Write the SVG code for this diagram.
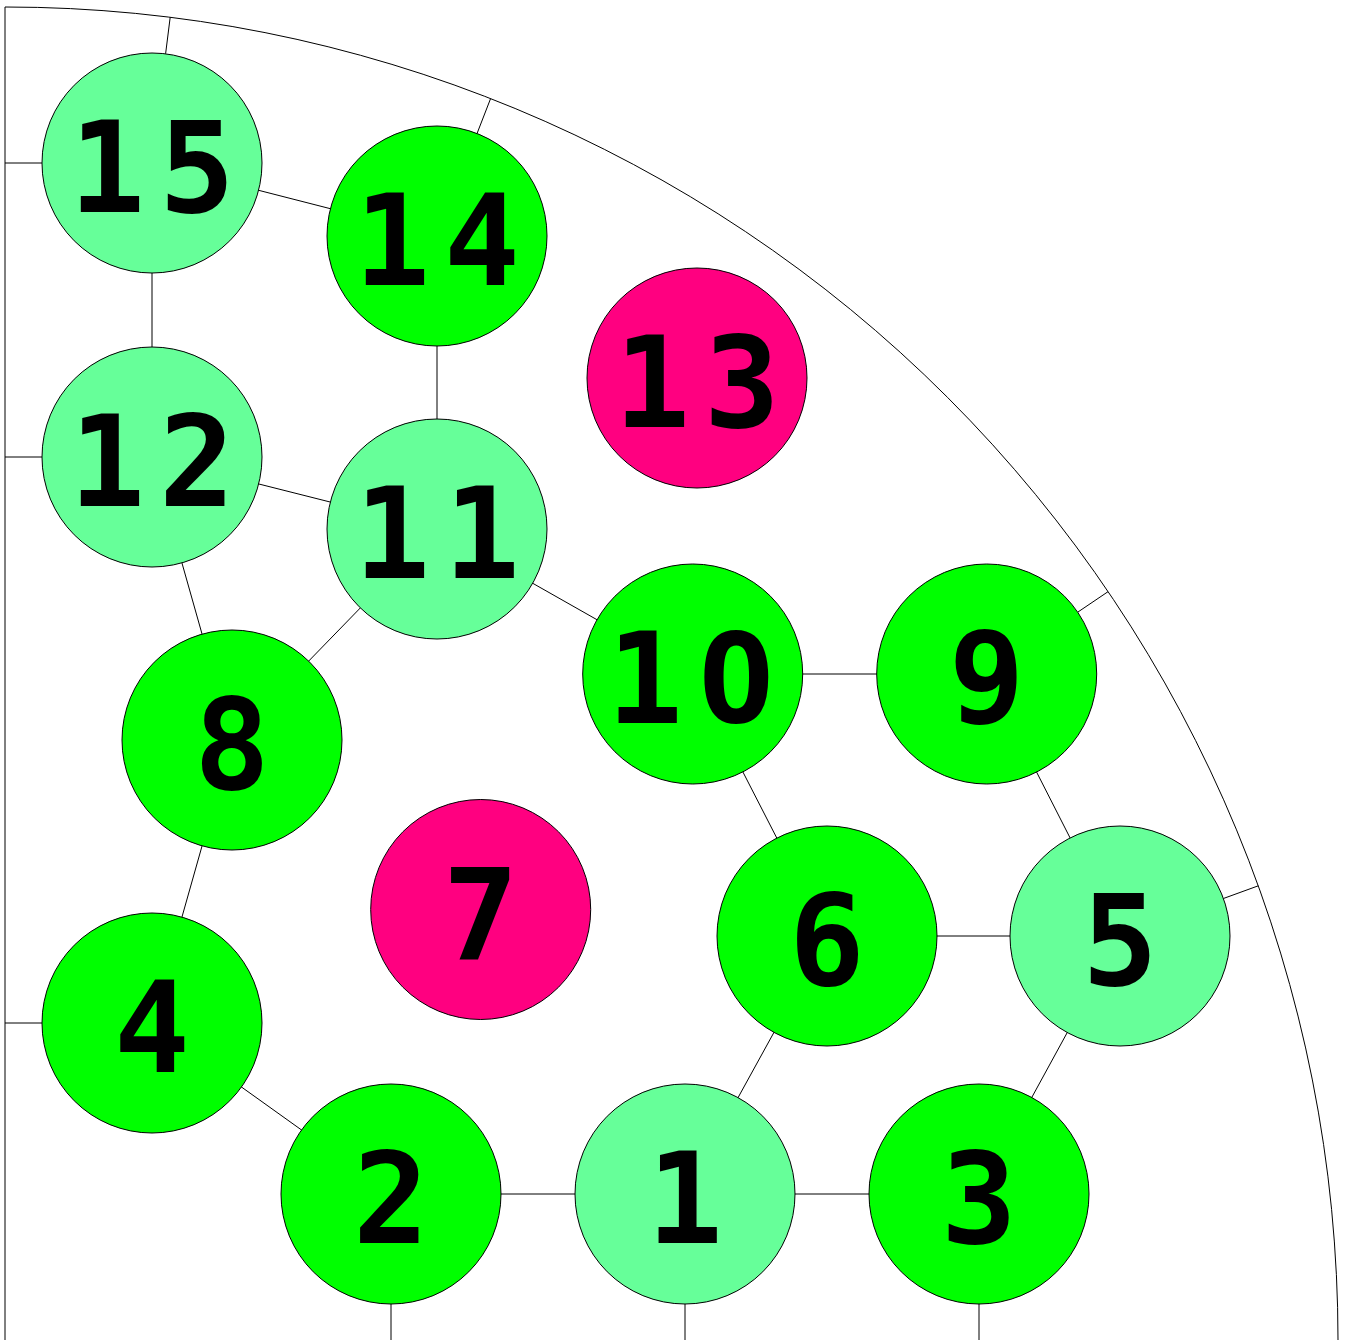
<svg xmlns="http://www.w3.org/2000/svg" width="1345" height="1340" viewBox="0 0 1345 1340">
<style>
.e{stroke:#000;stroke-width:1;fill:none}
.n circle{stroke:#000;stroke-width:1}
.lg{fill:#66FF99}
.g{fill:#00FF00}
.p{fill:#FF0080}
.n text{font-family:"DejaVu Sans Mono",monospace;font-weight:bold;font-size:126px;letter-spacing:14px;text-anchor:middle;fill:#000}
.n text.s{text-anchor:start}
.z{font-family:"Noto Sans",sans-serif;font-size:128px}
</style>
<rect width="1345" height="1340" fill="#fff"/>
<g id="connectors" class="e">
<path d="M5,7 A1333,1333 0 0 1 1338,1340"/>
<line x1="5" y1="7" x2="5" y2="1340"/>
<line x1="5" y1="163" x2="42" y2="163"/>
<line x1="5" y1="457" x2="42" y2="457"/>
<line x1="5" y1="1023" x2="42" y2="1023"/>
<line x1="391" y1="1304" x2="391" y2="1340"/>
<line x1="685" y1="1304" x2="685" y2="1340"/>
<line x1="979" y1="1304" x2="979" y2="1340"/>
<line x1="165.6" y1="53.8" x2="170.2" y2="17.2"/>
<line x1="477" y1="133.6" x2="490.5" y2="98.8"/>
<line x1="1077.7" y1="612.2" x2="1108" y2="591.7"/>
<line x1="1223.4" y1="898.5" x2="1258.3" y2="885.8"/>
<line x1="152" y1="163" x2="437" y2="236"/>
<line x1="152" y1="163" x2="152" y2="457"/>
<line x1="437" y1="236" x2="437" y2="529"/>
<line x1="152" y1="457" x2="437" y2="529"/>
<line x1="152" y1="457" x2="232" y2="740"/>
<line x1="437" y1="529" x2="232" y2="740"/>
<line x1="437" y1="529" x2="692.7" y2="674"/>
<line x1="692.7" y1="674" x2="986.7" y2="674"/>
<line x1="692.7" y1="674" x2="827" y2="936"/>
<line x1="986.7" y1="674" x2="1120" y2="936"/>
<line x1="827" y1="936" x2="1120" y2="936"/>
<line x1="827" y1="936" x2="685" y2="1194"/>
<line x1="1120" y1="936" x2="979" y2="1194"/>
<line x1="232" y1="740" x2="152" y2="1023"/>
<line x1="152" y1="1023" x2="391" y2="1194"/>
<line x1="391" y1="1194" x2="685" y2="1194"/>
<line x1="685" y1="1194" x2="979" y2="1194"/>
</g>
<g id="n15" class="n"><circle class="lg" cx="152" cy="163" r="110"/><text x="159" y="212">15</text></g>
<g id="n14" class="n"><circle class="g" cx="437" cy="236" r="110"/><text x="444" y="285">14</text></g>
<g id="n13" class="n"><circle class="p" cx="697" cy="378" r="110"/><text x="704" y="427">13</text></g>
<g id="n12" class="n"><circle class="lg" cx="152" cy="457" r="110"/><text x="159" y="506">12</text></g>
<g id="n11" class="n"><circle class="lg" cx="437" cy="529" r="110"/><text x="444" y="578">11</text></g>
<g id="n10" class="n"><circle class="g" cx="692.7" cy="674" r="110"/><text class="s" x="607" y="723">1<tspan class="z" dx="3">0</tspan></text></g>
<g id="n9" class="n"><circle class="g" cx="986.7" cy="674" r="110"/><text x="993.7" y="723">9</text></g>
<g id="n8" class="n"><circle class="g" cx="232" cy="740" r="110"/><text x="239" y="789">8</text></g>
<g id="n7" class="n"><circle class="p" cx="480.7" cy="909.5" r="110"/><text x="487.7" y="958.5">7</text></g>
<g id="n6" class="n"><circle class="g" cx="827" cy="936" r="110"/><text x="834" y="985">6</text></g>
<g id="n5" class="n"><circle class="lg" cx="1120" cy="936" r="110"/><text x="1127" y="985">5</text></g>
<g id="n4" class="n"><circle class="g" cx="152" cy="1023" r="110"/><text x="159" y="1072">4</text></g>
<g id="n2" class="n"><circle class="g" cx="391" cy="1194" r="110"/><text x="398" y="1243">2</text></g>
<g id="n1" class="n"><circle class="lg" cx="685" cy="1194" r="110"/><text x="692" y="1243">1</text></g>
<g id="n3" class="n"><circle class="g" cx="979" cy="1194" r="110"/><text x="986" y="1243">3</text></g>
</svg>
